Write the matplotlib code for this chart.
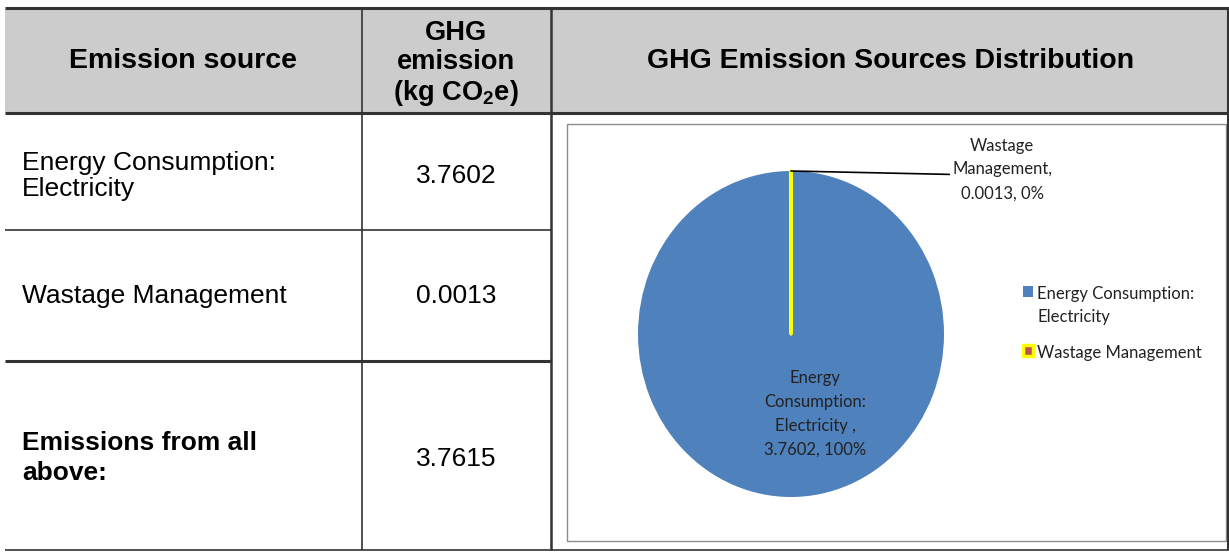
import matplotlib
matplotlib.use('Agg')
import matplotlib.pyplot as plt
from matplotlib.patches import Rectangle

# table rows / pie data
sources = ['Energy Consumption:\nElectricity', 'Wastage Management']
emissions = [3.7602, 0.0013]
pie_names = ['Energy\nConsumption:\nElectricity ,', 'Wastage\nManagement,']
legend_names = ['Energy Consumption:\nElectricity', 'Wastage Management']
colors = ['#4F81BD', '#C0504D']

total = sum(emissions)
pct = [v / total * 100 for v in emissions]

plt.rcParams['mathtext.fontset'] = 'custom'
plt.rcParams['mathtext.rm'] = 'Liberation Sans'
plt.rcParams['mathtext.bf'] = 'Liberation Sans:bold'

W, H = 1229, 552
fig = plt.figure(figsize=(W / 100, H / 100), dpi=100)

# table drawn in pixel space
tab = fig.add_axes([0, 0, 1, 1])
tab.set_xlim(0, W)
tab.set_ylim(H, 0)
tab.axis('off')

tab.add_patch(Rectangle((5, 9), W - 5, 104, facecolor='#cccccc', edgecolor='none'))
ln = dict(color='#333333', solid_capstyle='butt')
tab.plot([5, W], [8, 8], lw=2.2, **ln)
tab.plot([5, W], [113, 113], lw=2.2, **ln)
tab.plot([5, W], [550, 550], lw=1.2, **ln)
tab.plot([362, 362], [9, 550], lw=1.2, **ln)
tab.plot([551, 551], [9, 550], lw=1.8, **ln)
tab.plot([1228, 1228], [9, 550], lw=1.5, **ln)
tab.plot([5, 551], [230, 230], lw=1.2, **ln)
tab.plot([5, 551], [361, 361], lw=2.2, **ln)
tab.add_patch(Rectangle((567, 124), 659, 417, facecolor='white', edgecolor='#8c8c8c', lw=1))

hdr = dict(family='Liberation Sans', weight='bold', ha='center', va='center')
tab.text(183, 61, 'Emission source', fontsize=20.5, **hdr)
tab.text(456, 64, 'GHG\nemission\n(kg CO$_\\mathbf{2}$e)', fontsize=19.6, linespacing=1.15, **hdr)
tab.text(891, 61, 'GHG Emission Sources Distribution', fontsize=20.5, **hdr)

body = dict(family='Liberation Sans', fontsize=19, va='center')
for name, val, y in zip(sources, emissions, [176, 296]):
    tab.text(22, y, name, ha='left', linespacing=1.15, **body)
    tab.text(456, y, f'{val:.4f}', ha='center', **body)
tab.text(22, 458, 'Emissions from all\nabove:', ha='left', weight='bold', linespacing=1.28, **body)
tab.text(456, 459, f'{total:.4f}', ha='center', **body)

# pie (slightly taller than wide, like the original)
cx, cy, rx, ry = 791, 334, 153, 163
pax = fig.add_axes([(cx - rx) / W, 1 - (cy + ry) / H, 2 * rx / W, 2 * ry / H])
wedges, _ = pax.pie(emissions, colors=colors, startangle=90, counterclock=False)
wedges[1].set_edgecolor('#FFFF00')
wedges[1].set_linewidth(2.5)
wedges[1].set_joinstyle('round')
pax.set_aspect('auto')
pax.set_xlim(-1, 1)
pax.set_ylim(-1, 1)

lab = dict(family='Lato', fontsize=12, color='#222222', ha='center', va='center', linespacing=1.6)
pax.text(0.16, -0.49, f'{pie_names[0]}\n{emissions[0]}, {pct[0]:.0f}%', **lab)
pax.annotate(f'{pie_names[1]}\n{emissions[1]}, {pct[1]:.0f}%', xy=(0, 1), xytext=(1.38, 1.01),
             annotation_clip=False,
             arrowprops=dict(arrowstyle='-', color='black', lw=1.2, relpos=(0, 0.42),
                             shrinkA=0, shrinkB=0), **lab)

leg = fig.legend(wedges, legend_names, loc='upper left', bbox_to_anchor=(1008 / W, 1 - 271 / H),
                 frameon=False, prop=dict(family='Lato', size=12),
                 handlelength=0.6, handleheight=0.6, handletextpad=0.25, labelspacing=1.2)
for t in leg.get_texts():
    t.set_linespacing(1.55)
    t.set_color('#222222')
# put each marker next to the first line of its label
for col in leg._legend_handle_box.get_children():
    for row in col.get_children():
        row.align = 'top'

plt.savefig('out.png', dpi=100)
